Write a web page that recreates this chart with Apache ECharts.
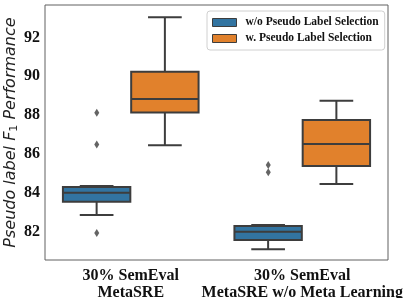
<!DOCTYPE html>
<html>
<head>
<meta charset="utf-8">
<script src="https://cdn.jsdelivr.net/npm/echarts@6/dist/echarts.min.js"></script>
<style>html,body{margin:0;padding:0;background:#fff;}#c{width:407px;height:298px;}</style>
</head>
<body>
<div id="c"></div>
<script>
// ---- data ----
const categories = ['30% SemEval\nMetaSRE', '30% SemEval\nMetaSRE w/o Meta Learning'];
const seriesNames = ['w/o Pseudo Label Selection', 'w. Pseudo Label Selection'];
// [categoryIndex, lowerWhisker, Q1, median, Q3, upperWhisker]
const woStats = [[0, 82.89, 83.57, 84.03, 84.33, 84.38], [1, 81.13, 81.60, 82.03, 82.32, 82.37]];
const wStats = [[0, 86.46, 88.15, 88.84, 90.24, 93.03], [1, 84.48, 85.40, 86.53, 87.76, 88.75]];
// [categoryIndex, value]
const woOutliers = [[0, 88.13], [0, 86.51], [0, 81.96], [1, 85.45], [1, 85.08]];
const wOutliers = [];
const yTicks = [82, 84, 86, 88, 90, 92];

const blue = '#3274a1', orange = '#e1812c', lineColor = '#3d3d3d';
const serif = 'Liberation Serif';

function renderBox(dir, color) {
  return function (params, api) {
    const cat = api.value(0);
    const bw = api.size([1, 0])[0];
    const w = bw * 0.393, off = dir * bw * 0.199;
    const cx = api.coord([cat, 0])[0] + off;
    const yl = api.coord([cat, api.value(1)])[1];
    const y1 = api.coord([cat, api.value(2)])[1];
    const ym = api.coord([cat, api.value(3)])[1];
    const y3 = api.coord([cat, api.value(4)])[1];
    const yh = api.coord([cat, api.value(5)])[1];
    const st = { stroke: lineColor, lineWidth: 2, fill: null };
    return {
      type: 'group',
      children: [
        { type: 'line', shape: { x1: cx, y1: yl, x2: cx, y2: y1 }, style: st },
        { type: 'line', shape: { x1: cx, y1: y3, x2: cx, y2: yh }, style: st },
        { type: 'line', shape: { x1: cx - w / 4, y1: yl, x2: cx + w / 4, y2: yl }, style: st },
        { type: 'line', shape: { x1: cx - w / 4, y1: yh, x2: cx + w / 4, y2: yh }, style: st },
        { type: 'rect', shape: { x: cx - w / 2, y: y3, width: w, height: y1 - y3 }, style: { fill: color, stroke: lineColor, lineWidth: 2 } },
        { type: 'line', shape: { x1: cx - w / 2, y1: ym, x2: cx + w / 2, y2: ym }, style: st }
      ]
    };
  };
}

const chart = echarts.init(document.getElementById('c'), null, { renderer: 'canvas' });
chart.setOption({
  animation: false,
  backgroundColor: '#fff',
  grid: { left: 45, right: 19, top: 5, bottom: 38, containLabel: false, outerBoundsMode: 'none', show: true, borderColor: '#606060', borderWidth: 1, backgroundColor: '#fff' },
  legend: {
    orient: 'vertical', left: 207, top: 11,
    data: seriesNames,
    itemWidth: 24, itemHeight: 8, itemGap: 3,
    padding: [5, 6, 5, 5],
    borderColor: '#d0d0d0', borderWidth: 1, borderRadius: 3, backgroundColor: '#fff',
    icon: 'rect',
    itemStyle: { borderColor: lineColor, borderWidth: 1 },
    textStyle: { fontFamily: serif, fontWeight: 'bold', fontSize: 11.5, color: '#111', padding: [0, 0, 0, 4], lineHeight: 13 }
  },
  xAxis: {
    type: 'category', data: categories,
    axisLine: { show: false }, axisTick: { show: false }, splitLine: { show: false },
    axisLabel: { interval: 0, fontFamily: serif, fontWeight: 'bold', fontSize: 16, color: '#111', lineHeight: 17, margin: 7 }
  },
  yAxis: {
    type: 'value', min: 80.58, max: 93.66,
    axisLine: { show: false }, axisTick: { show: false }, splitLine: { show: false },
    axisLabel: { customValues: yTicks, fontFamily: serif, fontWeight: 'bold', fontSize: 16, color: '#111', margin: 5 },
    name: '{i|Pseudo label F}{s|1}{i| Performance}',
    nameLocation: 'middle', nameGap: 25.5, nameRotate: 90, nameMoveOverlap: false,
    nameTextStyle: {
      rich: {
        i: { fontFamily: 'DejaVu Sans', fontStyle: 'italic', fontSize: 16, color: '#222' },
        s: { fontFamily: 'DejaVu Sans', fontSize: 11, color: '#222', padding: [7, 0, 0, 0] }
      }
    }
  },
  series: [
    { name: seriesNames[0], type: 'custom', data: woStats, itemStyle: { color: blue }, encode: { x: 0, y: [1, 2, 3, 4, 5] }, renderItem: renderBox(-1, blue), z: 2 },
    { name: seriesNames[1], type: 'custom', data: wStats, itemStyle: { color: orange }, encode: { x: 0, y: [1, 2, 3, 4, 5] }, renderItem: renderBox(1, orange), z: 2 },
    { name: 'out0', type: 'scatter', data: woOutliers, symbol: 'diamond', symbolSize: [5, 8], symbolOffset: [-34, 0], itemStyle: { color: lineColor }, z: 3 },
    { name: 'out1', type: 'scatter', data: wOutliers, symbol: 'diamond', symbolSize: [5, 8], symbolOffset: [34, 0], itemStyle: { color: lineColor }, z: 3 }
  ]
});
</script>
</body>
</html>
